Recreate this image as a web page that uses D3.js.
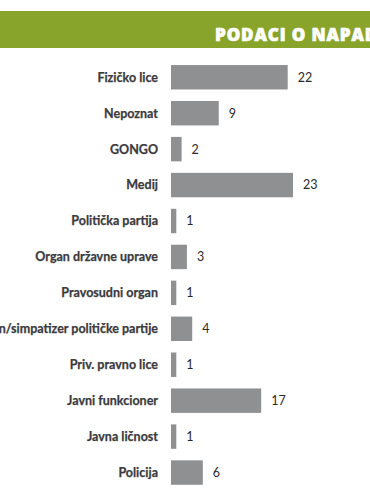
<html>
<head>
<meta charset="utf-8">
<script src="https://d3js.org/d3.v7.min.js"></script>
<style>
    body, html {
        margin: 0;
        padding: 0;
        background: #fff;
        overflow: hidden;
    }
</style>
</head>
<body>
<div id="chart"></div>
<script>

var title = "PODACI O NAPADAČIMA";

var categories = [
    "Fizičko lice",
    "Nepoznat",
    "GONGO",
    "Medij",
    "Politička partija",
    "Organ državne uprave",
    "Pravosudni organ",
    "Član/simpatizer političke partije",
    "Priv. pravno lice",
    "Javni funkcioner",
    "Javna ličnost",
    "Policija"
];

var values = [22, 9, 2, 23, 1, 3, 1, 4, 1, 17, 1, 6];

var w = 370;
var h = 493;

var svg = d3.select("#chart")
    .append("svg")
    .attr("width", w)
    .attr("height", h);

// green banner
svg.append("rect")
    .attr("x", 0)
    .attr("y", 11)
    .attr("width", w)
    .attr("height", 37)
    .style("fill", "#89a42a");

svg.append("text")
    .attr("x", 215)
    .attr("y", 40.5)
    .style("font-family", "'Open Sans', sans-serif")
    .style("font-weight", "800")
    .style("font-size", "17px")
    .style("letter-spacing", "0.9px")
    .style("fill", "#fff")
    .style("stroke", "#fff")
    .style("stroke-width", "0.7px")
    .text(title);

// scales
var x = d3.scaleLinear()
    .domain([0, 23])
    .range([171, 293]);

var y = d3.scaleBand()
    .domain(categories)
    .range([59.3, 490.5])
    .paddingInner(0.32)
    .paddingOuter(0.16);

// bars
svg.append("g")
    .selectAll("rect")
    .data(values)
    .enter()
    .append("rect")
    .attr("x", x(0))
    .attr("y", function (d, i) { return y(categories[i]); })
    .attr("width", function (d) { return x(d) - x(0); })
    .attr("height", y.bandwidth())
    .style("fill", "#8e9092");

// category labels
svg.append("g")
    .selectAll("text")
    .data(categories)
    .enter()
    .append("text")
    .attr("x", 158)
    .attr("y", function (d) { return y(d) + y.bandwidth() / 2; })
    .attr("dy", "0.35em")
    .attr("text-anchor", "end")
    .style("font-family", "Lato, sans-serif")
    .style("font-weight", "bold")
    .style("font-size", "12.5px")
    .style("fill", "#3b3b3d")
    .style("stroke", "#3b3b3d")
    .style("stroke-width", "0.25px")
    .text(function (d) { return d; });

// value labels
svg.append("g")
    .selectAll("text")
    .data(values)
    .enter()
    .append("text")
    .attr("x", function (d) { return x(d) + 10; })
    .attr("y", function (d, i) { return y(categories[i]) + y.bandwidth() / 2; })
    .attr("dy", "0.35em")
    .style("font-family", "Lato, sans-serif")
    .style("font-size", "12.5px")
    .style("fill", "#2a2a2a")
    .text(function (d) { return d; });

</script>
</body>
</html>
